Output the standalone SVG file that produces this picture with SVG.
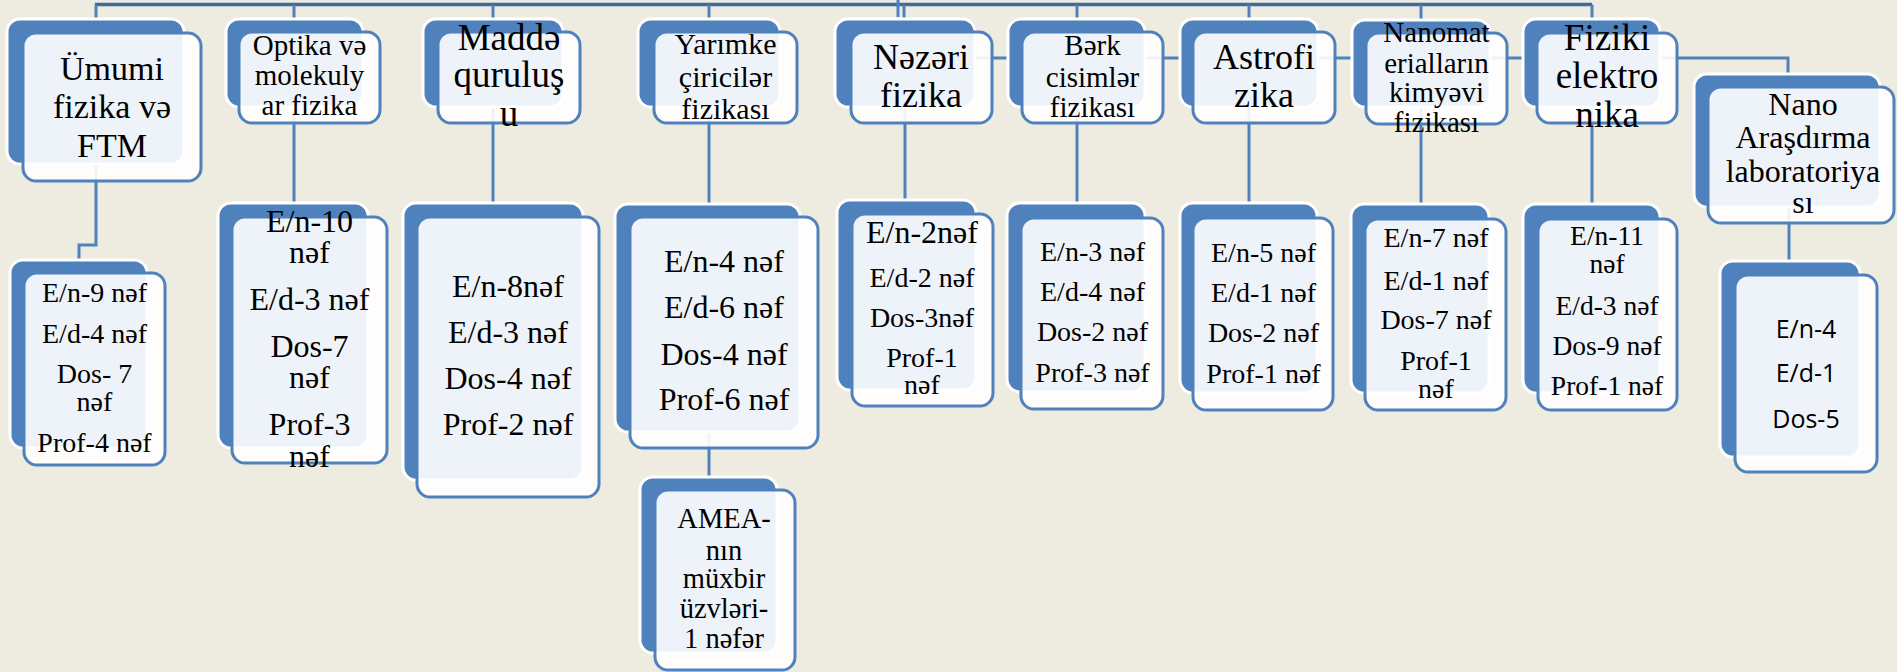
<svg xmlns="http://www.w3.org/2000/svg" width="1897" height="672" viewBox="0 0 1897 672">
<style>
.bk{fill:#4f81bd;stroke:#ffffff;stroke-width:3}
.fr{fill:#ffffff;fill-opacity:0.9;stroke:#4f81bd;stroke-width:3}
.t{font-family:"Liberation Serif","Times New Roman",serif;fill:#000;text-anchor:middle}
.s{font-family:"Open Sans","Noto Sans",sans-serif;fill:#000;text-anchor:middle}
.c{fill:none;stroke:#4f81bd;stroke-width:3}
.top{fill:none;stroke:#41699b;stroke-width:3.5}
</style>
<rect width="1897" height="672" fill="#eeece1"/>
<g id="connectors">
<path class="top" d="M95 4.5H1592"/>
<path class="c" d="M898 0V17M96 4.5V19M294 4.5V19M493 4.5V19M709 4.5V19M904 4.5V19M1077 4.5V19M1249 4.5V19M1421 4.5V20M1592 4.5V19"/>
<path class="c" d="M96 164V245H79V260M294 107V203M493 107V203M709 107V204M709 432V477M905 107V200M1077 107V203M1249 107V203M1421 107V204M1592 107V204M1789 207V261"/>
<path class="c" d="M905 58H1788V74"/>
</g>
<g id="n1">
<rect class="bk" x="7" y="19" width="177" height="145" rx="13"/>
<rect class="fr" x="23" y="33" width="178" height="148" rx="13"/>
<text class="t" font-size="34"><tspan x="112" y="80">Ümumi</tspan><tspan x="112" y="118">fizika və</tspan><tspan x="112" y="157">FTM</tspan></text>
</g>
<g id="n1c">
<rect class="bk" x="10" y="260" width="137" height="188" rx="13"/>
<rect class="fr" x="24" y="273" width="141" height="192" rx="13"/>
<text class="t" font-size="28"><tspan x="94.5" y="302">E/n-9 nəf</tspan><tspan x="94.5" y="343">E/d-4 nəf</tspan><tspan x="94.5" y="383">Dos- 7</tspan><tspan x="94.5" y="411">nəf</tspan><tspan x="94.5" y="452">Prof-4 nəf</tspan></text>
</g>
<g id="n2">
<rect class="bk" x="226" y="19" width="137" height="88" rx="13"/>
<rect class="fr" x="239" y="32" width="141" height="91" rx="13"/>
<text class="t" font-size="29"><tspan x="309.5" y="55">Optika və</tspan><tspan x="309.5" y="85">molekuly</tspan><tspan x="309.5" y="115">ar fizika</tspan></text>
</g>
<g id="n2c">
<rect class="bk" x="218" y="203" width="150" height="245" rx="13"/>
<rect class="fr" x="232" y="217" width="155" height="246" rx="13"/>
<text class="t" font-size="32"><tspan x="309.5" y="232">E/n-10</tspan><tspan x="309.5" y="263">nəf</tspan><tspan x="309.5" y="310">E/d-3 nəf</tspan><tspan x="309.5" y="357">Dos-7</tspan><tspan x="309.5" y="388">nəf</tspan><tspan x="309.5" y="435">Prof-3</tspan><tspan x="309.5" y="467">nəf</tspan></text>
</g>
<g id="n3">
<rect class="bk" x="423" y="19" width="140" height="88" rx="13"/>
<rect class="fr" x="438" y="32" width="142" height="91" rx="13"/>
<text class="t" font-size="37"><tspan x="509" y="50">Maddə</tspan><tspan x="509" y="87">quruluş</tspan><tspan x="509" y="126">u</tspan></text>
</g>
<g id="n3c">
<rect class="bk" x="403" y="203" width="180" height="277" rx="13"/>
<rect class="fr" x="417" y="217" width="182" height="280" rx="13"/>
<text class="t" font-size="32"><tspan x="508" y="297">E/n-8nəf</tspan><tspan x="508" y="343">E/d-3 nəf</tspan><tspan x="508" y="389">Dos-4 nəf</tspan><tspan x="508" y="435">Prof-2 nəf</tspan></text>
</g>
<g id="n4">
<rect class="bk" x="638" y="19" width="142" height="88" rx="13"/>
<rect class="fr" x="654" y="32" width="143" height="91" rx="13"/>
<text class="t" font-size="30"><tspan x="725.5" y="54">Yarımke</tspan><tspan x="725.5" y="87">çiricilər</tspan><tspan x="725.5" y="119">fizikası</tspan></text>
</g>
<g id="n4c">
<rect class="bk" x="615" y="204" width="185" height="228" rx="13"/>
<rect class="fr" x="630" y="217" width="188" height="231" rx="13"/>
<text class="t" font-size="32"><tspan x="724" y="272">E/n-4 nəf</tspan><tspan x="724" y="318">E/d-6 nəf</tspan><tspan x="724" y="365">Dos-4 nəf</tspan><tspan x="724" y="410">Prof-6 nəf</tspan></text>
</g>
<g id="n4d">
<rect class="bk" x="640" y="477" width="137" height="176" rx="13"/>
<rect class="fr" x="655" y="490" width="140" height="180" rx="13"/>
<text class="t" font-size="28.5"><tspan x="724" y="528">AMEA-</tspan><tspan x="724" y="560">nın</tspan><tspan x="724" y="588">müxbir</tspan><tspan x="724" y="618">üzvləri-</tspan><tspan x="724" y="648">1 nəfər</tspan></text>
</g>
<g id="n5">
<rect class="bk" x="835" y="19" width="140" height="88" rx="13"/>
<rect class="fr" x="851" y="32" width="141" height="91" rx="13"/>
<text class="t" font-size="36"><tspan x="921" y="69">Nəzəri</tspan><tspan x="921" y="107">fizika</tspan></text>
</g>
<g id="n5c">
<rect class="bk" x="837" y="200" width="139" height="190" rx="13"/>
<rect class="fr" x="852" y="214" width="141" height="192" rx="13"/>
<text class="t" font-size="28"><tspan x="922" y="243" font-size="32">E/n-2nəf</tspan><tspan x="922" y="287">E/d-2 nəf</tspan><tspan x="922" y="327">Dos-3nəf</tspan><tspan x="922" y="367">Prof-1</tspan><tspan x="922" y="394">nəf</tspan></text>
</g>
<g id="n6">
<rect class="bk" x="1008" y="19" width="137" height="88" rx="13"/>
<rect class="fr" x="1022" y="32" width="141" height="91" rx="13"/>
<text class="t" font-size="29"><tspan x="1092.5" y="55">Bərk</tspan><tspan x="1092.5" y="87">cisimlər</tspan><tspan x="1092.5" y="117">fizikası</tspan></text>
</g>
<g id="n6c">
<rect class="bk" x="1007" y="203" width="138" height="189" rx="13"/>
<rect class="fr" x="1021" y="218" width="142" height="191" rx="13"/>
<text class="t" font-size="28"><tspan x="1092.5" y="261">E/n-3 nəf</tspan><tspan x="1092.5" y="301">E/d-4 nəf</tspan><tspan x="1092.5" y="341">Dos-2 nəf</tspan><tspan x="1092.5" y="382">Prof-3 nəf</tspan></text>
</g>
<g id="n7">
<rect class="bk" x="1180" y="19" width="138" height="88" rx="13"/>
<rect class="fr" x="1193" y="32" width="142" height="91" rx="13"/>
<text class="t" font-size="36"><tspan x="1264" y="69">Astrofi</tspan><tspan x="1264" y="107">zika</tspan></text>
</g>
<g id="n7c">
<rect class="bk" x="1180" y="203" width="137" height="190" rx="13"/>
<rect class="fr" x="1193" y="218" width="140" height="192" rx="13"/>
<text class="t" font-size="28"><tspan x="1263.5" y="262">E/n-5 nəf</tspan><tspan x="1263.5" y="302">E/d-1 nəf</tspan><tspan x="1263.5" y="342">Dos-2 nəf</tspan><tspan x="1263.5" y="383">Prof-1 nəf</tspan></text>
</g>
<g id="n8">
<rect class="bk" x="1352" y="20" width="138" height="87" rx="13"/>
<rect class="fr" x="1366" y="33" width="141" height="91" rx="13"/>
<text class="t" font-size="29"><tspan x="1436.5" y="42">Nanomat</tspan><tspan x="1436.5" y="73">erialların</tspan><tspan x="1436.5" y="102">kimyəvi</tspan><tspan x="1436.5" y="132">fizikası</tspan></text>
</g>
<g id="n8c">
<rect class="bk" x="1351" y="204" width="138" height="189" rx="13"/>
<rect class="fr" x="1365" y="219" width="141" height="191" rx="13"/>
<text class="t" font-size="28"><tspan x="1436" y="247">E/n-7 nəf</tspan><tspan x="1436" y="290">E/d-1 nəf</tspan><tspan x="1436" y="329">Dos-7 nəf</tspan><tspan x="1436" y="370">Prof-1</tspan><tspan x="1436" y="398">nəf</tspan></text>
</g>
<g id="n9">
<rect class="bk" x="1523" y="19" width="137" height="88" rx="13"/>
<rect class="fr" x="1537" y="33" width="140" height="90" rx="13"/>
<text class="t" font-size="37"><tspan x="1607" y="50">Fiziki</tspan><tspan x="1607" y="88">elektro</tspan><tspan x="1607" y="127">nika</tspan></text>
</g>
<g id="n9c">
<rect class="bk" x="1523" y="204" width="137" height="189" rx="13"/>
<rect class="fr" x="1538" y="219" width="139" height="191" rx="13"/>
<text class="t" font-size="27.5"><tspan x="1607" y="245">E/n-11</tspan><tspan x="1607" y="273">nəf</tspan><tspan x="1607" y="315">E/d-3 nəf</tspan><tspan x="1607" y="355">Dos-9 nəf</tspan><tspan x="1607" y="395">Prof-1 nəf</tspan></text>
</g>
<g id="n10">
<rect class="bk" x="1694" y="74" width="186" height="133" rx="13"/>
<rect class="fr" x="1708" y="87" width="186" height="136" rx="13"/>
<text class="t" font-size="32"><tspan x="1803" y="115">Nano</tspan><tspan x="1803" y="148">Araşdırma</tspan><tspan x="1803" y="182">laboratoriya</tspan><tspan x="1803" y="213">sı</tspan></text>
</g>
<g id="n10c">
<rect class="bk" x="1720" y="261" width="140" height="196" rx="13"/>
<rect class="fr" x="1735" y="275" width="142" height="197" rx="13"/>
<text class="s" font-size="25"><tspan x="1806" y="338">E/n-4</tspan><tspan x="1806" y="382">E/d-1</tspan><tspan x="1806" y="428">Dos-5</tspan></text>
</g>
</svg>
